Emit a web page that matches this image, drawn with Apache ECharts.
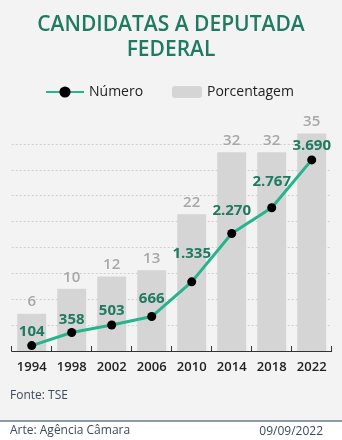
<!DOCTYPE html>
<html><head><meta charset="utf-8">
<script src="https://cdn.jsdelivr.net/npm/echarts@6/dist/echarts.min.js"></script>
<style>html,body{margin:0;padding:0;background:#fff}#c{width:342px;height:440px}</style>
</head><body><div id="c"></div>
<script>
const years = ['1994','1998','2002','2006','2010','2014','2018','2022'];
const numero = [104, 358, 503, 666, 1335, 2270, 2767, 3690];
const porcentagem = [6, 10, 12, 13, 22, 32, 32, 35];
const numeroLabels = ['104','358','503','666','1.335','2.270','2.767','3.690'];
const labelLift = [2, 1, 2, 6, 16, 11, 14, 2];

const FONT = '"Open Sans", "Noto Sans", sans-serif';
const chart = echarts.init(document.getElementById('c'), null, {renderer: 'canvas'});
chart.setOption({
  animation: false,
  textStyle: {fontFamily: FONT},
  graphic: [
    {type: 'rect', shape: {x: 0, y: 0, width: 342, height: 421}, style: {fill: '#f3f3f3'}, z: -10},
    {type: 'rect', shape: {x: 0, y: 420, width: 342, height: 2}, style: {fill: '#8e9ba6'}, z: -5},
    {type: 'text', x: 171, y: 25, style: {text: 'CANDIDATAS A DEPUTADA', fill: '#1f7a5f', font: '600 21px ' + FONT, textAlign: 'center', textVerticalAlign: 'middle'}},
    {type: 'text', x: 171, y: 50, style: {text: 'FEDERAL', fill: '#1f7a5f', font: '600 21px ' + FONT, textAlign: 'center', textVerticalAlign: 'middle'}},
    {type: 'text', x: 10, y: 396, style: {text: 'Fonte: TSE', fill: '#3b4b5b', font: '12px ' + FONT, textVerticalAlign: 'middle'}},
    {type: 'text', x: 10, y: 431, style: {text: 'Arte: Agência Câmara', fill: '#3b4b5b', font: '12px ' + FONT, textVerticalAlign: 'middle'}},
    {type: 'text', x: 323, y: 432, style: {text: '09/09/2022', fill: '#3b4b5b', font: '12px ' + FONT, textAlign: 'right', textVerticalAlign: 'middle'}}
  ],
  legend: [
    {data: ['Número'], left: 45, top: 85, padding: 0, itemWidth: 38, itemHeight: 14, itemGap: 6,
     textStyle: {fontSize: 14, color: '#222', fontFamily: FONT}},
    {data: ['Porcentagem'], left: 172, top: 85, padding: 0, itemWidth: 30, itemHeight: 12, itemGap: 6,
     textStyle: {fontSize: 14, color: '#222', fontFamily: FONT}}
  ],
  grid: {left: 11.7, right: 10.3, top: 133.5, bottom: 89, containLabel: false},
  xAxis: {
    type: 'category', data: years, boundaryGap: true,
    axisLine: {lineStyle: {color: '#333', width: 1}},
    axisTick: {show: true, length: 5, inside: true, lineStyle: {color: '#333'}},
    axisLabel: {color: '#222', fontSize: 13, fontWeight: 600, margin: 10, fontFamily: FONT}
  },
  yAxis: [
    {type: 'value', min: 0, max: 4200, interval: 500,
     axisLabel: {show: false}, axisLine: {show: false}, axisTick: {show: false},
     splitLine: {show: true, showMinLine: false, showMaxLine: false, lineStyle: {color: '#cfcfcf', type: [2, 2], width: 1}}},
    {type: 'value', min: 0, max: 35, show: false, splitLine: {show: false}}
  ],
  series: [
    {name: 'Porcentagem', type: 'bar', yAxisIndex: 1, data: porcentagem, barWidth: 29,
     itemStyle: {color: '#d5d5d5'}, z: 1,
     label: {show: true, position: 'top', distance: 4, color: '#a8a8a8', fontSize: 15, fontWeight: 600, fontFamily: FONT}},
    {name: 'Número', type: 'line', yAxisIndex: 0,
     data: numero.map((v, i) => ({value: v, label: {offset: [0, -labelLift[i]]}})),
     symbol: 'circle', symbolSize: 9, z: 3,
     lineStyle: {color: '#27b48c', width: 3},
     itemStyle: {color: '#000', borderWidth: 0},
     label: {show: true, position: 'top', distance: 0, color: '#1f7a5f', fontSize: 15, fontWeight: 700, fontFamily: FONT,
       formatter: p => numeroLabels[p.dataIndex]}}
  ]
});
</script></body></html>
